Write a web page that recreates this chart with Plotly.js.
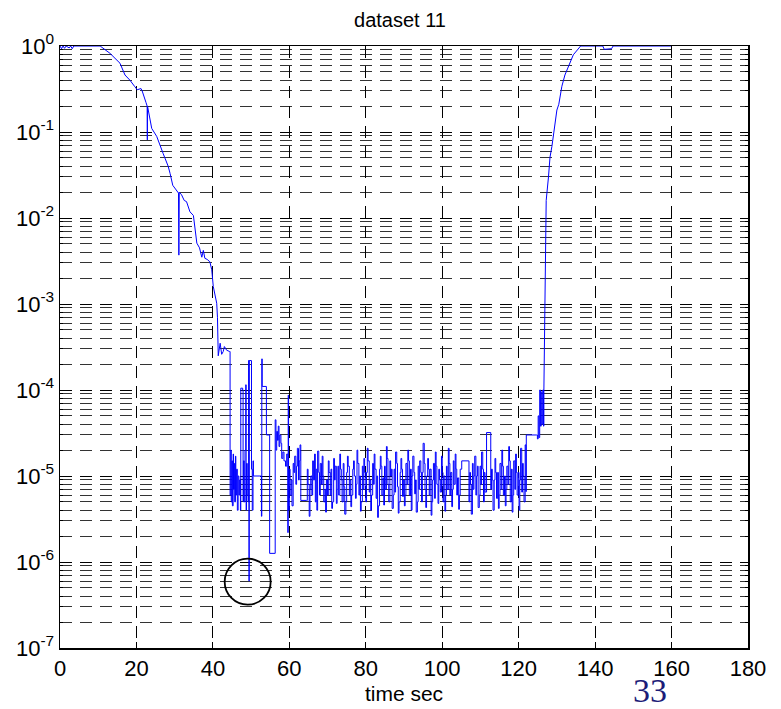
<!DOCTYPE html>
<html>
<head>
<meta charset="utf-8">
<script src="https://cdn.plot.ly/plotly-3.0.1.min.js"></script>
<style>
html,body{margin:0;padding:0;background:#fff;}
#chart{width:781px;height:709px;}
</style>
</head>
<body>
<div id="chart"></div>
<script>
// ---- data: decay section ----
var decayT = [0, 0.4, 0.8, 1.2, 1.6, 2.4, 2.8, 3.2, 3.6, 10.5, 13.1, 15.7, 17, 18.3, 19.5, 20.2, 21.2, 21.5, 22.5, 22.8, 22.85, 22.9, 24, 25.3, 27, 28.3, 28.8, 29.5, 31, 31.1, 31.2, 31.8, 32.5, 33.1, 34, 34.9, 35.8, 36.5, 37.1, 37.5, 37.9, 38.5, 39.2, 39.7, 40.1, 40.6, 41, 41.2, 41.4, 41.9, 42.3, 42.7, 43.0, 43.6, 44.3, 44.4];
var decayV = [1, 0.93, 1, 0.94, 1, 0.95, 1, 0.93, 1, 1, 0.82, 0.63, 0.46, 0.40, 0.34, 0.31, 0.32, 0.30, 0.22, 0.20, 0.081, 0.20, 0.11, 0.089, 0.056, 0.040, 0.033, 0.024, 0.0195, 0.0037, 0.02, 0.0186, 0.016, 0.0155, 0.0118, 0.0107, 0.0051, 0.0045, 0.0035, 0.0042, 0.0034, 0.0033, 0.0031, 0.0025, 0.0016, 0.0013, 0.00102, 0.0007, 0.00025, 0.00035, 0.00026, 0.00028, 0.00032, 0.00029, 0.00028, 0.00028];

// ---- data: transition spikes 44.4 - 60 s ----
var spikeT = [44.4, 44.5, 44.7, 44.8, 45.0, 45.1, 45.3, 45.4, 45.6, 45.7, 45.9, 46.0, 46.2, 46.4, 46.6, 46.8, 47.0, 47.2, 47.3, 47.6, 47.8, 47.9, 48.0, 48.2, 48.4, 48.6, 48.7, 48.8, 49.0, 49.2, 49.35, 49.45, 49.5, 50.0, 50.1, 50.3, 50.5, 50.6, 52.3, 52.5, 52.7, 52.8, 52.9, 53.9, 54.0, 54.8, 54.85, 56.0, 56.3, 56.5, 56.7, 56.9, 57.1, 57.3, 57.5, 57.8, 58.0, 58.3, 58.6, 59.0, 59.3, 59.6, 59.7, 59.8];
var spikeV = [0.00028, 6e-6, 2e-5, 5e-6, 1.5e-5, 4.5e-6, 1.8e-5, 7e-6, 1.4e-5, 5e-6, 1.7e-5, 6e-6, 1.2e-5, 4e-6, 1.0e-5, 6e-6, 9e-6, 4e-6, 1.05e-4, 1.05e-4, 1e-4, 5e-6, 1.5e-5, 5e-6, 2e-5, 1.15e-4, 4e-6, 1.4e-5, 6e-6, 5e-6, 2.2e-4, 6e-7, 2.2e-4, 2.2e-4, 1.2e-5, 4e-6, 1.5e-5, 1e-5, 1e-5, 1e-5, 3.4e-6, 2.3e-4, 1.1e-4, 1.1e-4, 3e-5, 3e-5, 1.26e-6, 1.26e-6, 4.5e-5, 2e-5, 3.3e-5, 2.6e-5, 3.8e-5, 2.2e-5, 3e-5, 2.4e-5, 1.6e-5, 1.9e-5, 1.5e-5, 1.3e-5, 1.8e-5, 2.2e-6, 8.7e-5, 4e-6];

// ---- data: noise floor 60 - 122 s ----
var noiseT = [
  60.0, 60.2, 60.5, 60.7, 61.0, 61.2, 61.4, 61.7, 61.9, 62.1,
  62.4, 62.6, 62.8, 63.0, 64.5, 64.7, 64.9, 65.2, 65.4, 65.6,
  65.9, 66.1, 66.3, 66.6, 66.8, 67.0, 67.2, 67.4, 67.7, 67.9,
  68.1, 68.4, 68.6, 68.8, 69.0, 69.3, 69.5, 69.7, 70.0, 70.2,
  70.4, 70.7, 70.9, 71.1, 71.3, 71.6, 71.8, 72.0, 72.3, 72.5,
  72.7, 72.9, 73.2, 73.4, 73.6, 73.8, 74.1, 74.3, 74.5, 74.8,
  75.0, 75.2, 75.4, 75.7, 75.9, 76.1, 76.3, 76.6, 76.8, 77.0,
  77.3, 77.5, 77.7, 77.9, 78.2, 78.4, 78.6, 78.8, 79.1, 79.3,
  79.5, 79.7, 80.0, 80.2, 80.4, 80.6, 80.9, 81.1, 81.3, 81.5,
  81.8, 82.0, 82.2, 82.4, 82.7, 82.9, 83.1, 83.3, 83.6, 83.8,
  84.0, 84.2, 84.5, 84.7, 84.9, 85.1, 85.4, 85.6, 85.8, 86.0,
  86.3, 86.5, 86.7, 86.9, 87.2, 87.4, 87.6, 87.8, 88.1, 88.3,
  88.5, 88.7, 89.0, 89.2, 89.4, 89.6, 89.9, 90.1, 90.3, 90.5,
  90.8, 91.0, 91.2, 91.4, 91.7, 91.9, 92.1, 92.3, 92.6, 92.8,
  93.0, 93.2, 93.5, 93.7, 93.9, 94.1, 94.4, 94.6, 94.8, 95.0,
  95.3, 95.5, 95.7, 95.9, 96.2, 96.4, 96.6, 96.8, 97.1, 97.3,
  97.5, 97.7, 98.0, 98.2, 98.4, 98.6, 98.9, 99.1, 99.3, 99.5,
  99.8, 100.0, 100.2, 100.4, 100.7, 100.9, 101.1, 101.3, 101.6, 101.8,
  102.0, 102.2, 102.5, 102.7, 102.9, 103.1, 103.4, 103.6, 103.8, 104.0,
  104.3, 104.5, 104.7, 105.1, 106.8, 107.0, 107.2, 107.4, 107.6, 107.9,
  108.1, 108.3, 108.5, 108.8, 109.0, 109.2, 109.4, 109.7, 109.9, 110.1,
  110.3, 110.6, 110.8, 111.0, 111.2, 111.6, 112.5, 112.7, 112.9, 113.1,
  113.3, 113.6, 113.8, 114.0, 114.2, 114.5, 114.7, 114.9, 115.1, 115.4,
  115.6, 115.8, 116.0, 116.3, 116.5, 116.7, 116.9, 117.2, 117.4, 117.6,
  117.8, 118.1, 118.3, 118.5, 118.7, 119.0, 119.2, 119.4, 119.6, 119.9,
  120.1, 120.3, 120.5, 120.8, 121.0, 121.2, 121.4, 121.7, 121.9];
var noiseV = [
  12e-6, 6e-6, 9e-6, 4.5e-6, 14e-6, 11e-6, 17e-6, 8e-6, 13e-6, 21e-6,
  9e-6, 15e-6, 23e-6, 5.2e-6, 5.2e-6, 12e-6, 8e-6, 3.4e-6, 7e-6, 10e-6,
  6e-6, 15e-6, 9e-6, 18e-6, 5e-6, 12e-6, 4e-6, 19.5e-6, 11e-6, 6e-6,
  14e-6, 8e-6, 17e-6, 10e-6, 5e-6, 7e-6, 3.8e-6, 9e-6, 6e-6, 15e-6,
  11e-6, 6e-6, 12e-6, 4.2e-6, 5e-6, 16e-6, 9e-6, 13e-6, 4.8e-6, 7e-6,
  13e-6, 6e-6, 18e-6, 12e-6, 9e-6, 5e-6, 14e-6, 7.5e-6, 3.6e-6, 5e-6,
  11e-6, 17e-6, 13e-6, 6e-6, 9e-6, 4.4e-6, 6e-6, 12e-6, 15e-6, 10e-6,
  5.5e-6, 8e-6, 20e-6, 14e-6, 6e-6, 10e-6, 3.9e-6, 5e-6, 13e-6, 7e-6,
  16e-6, 11e-6, 5e-6, 11e-6, 21e-6, 15e-6, 6.5e-6, 9e-6, 4e-6, 6e-6,
  14e-6, 8e-6, 18e-6, 12e-6, 5.5e-6, 10e-6, 3.3e-6, 4.5e-6, 12e-6, 17e-6,
  13e-6, 6e-6, 9.5e-6, 4.6e-6, 13e-6, 7e-6, 22e-6, 16e-6, 8e-6, 5e-6,
  15e-6, 10e-6, 12e-6, 4.2e-6, 6e-6, 12e-6, 6.5e-6, 19e-6, 14e-6, 7.5e-6,
  3.7e-6, 5e-6, 11e-6, 16e-6, 12e-6, 5.8e-6, 9e-6, 4.5e-6, 6e-6, 14e-6,
  8e-6, 20e-6, 15e-6, 6e-6, 12e-6, 4e-6, 10e-6, 17e-6, 11e-6, 6.2e-6,
  9e-6, 3.8e-6, 5e-6, 13e-6, 7e-6, 15e-6, 11e-6, 5e-6, 11e-6, 24e-6,
  14e-6, 7e-6, 4.3e-6, 10e-6, 16e-6, 12e-6, 6e-6, 12e-6, 3.5e-6, 5e-6,
  9e-6, 14e-6, 5.5e-6, 19e-6, 13e-6, 8e-6, 4.8e-6, 12e-6, 9e-6, 6.5e-6,
  17e-6, 11e-6, 5e-6, 10e-6, 3.9e-6, 6e-6, 13e-6, 7e-6, 21e-6, 14e-6,
  6e-6, 11e-6, 4.4e-6, 7e-6, 15e-6, 8e-6, 18e-6, 12e-6, 6e-6, 9.5e-6,
  4.1e-6, 6e-6, 12e-6, 15e-6, 15e-6, 5e-6, 11e-6, 8e-6, 3.6e-6, 14e-6,
  7e-6, 10e-6, 17e-6, 6e-6, 10e-6, 13e-6, 4.3e-6, 6e-6, 13e-6, 8e-6,
  19e-6, 12e-6, 5e-6, 11e-6, 6.5e-6, 32e-6, 32e-6, 7e-6, 12e-6, 9e-6,
  4e-6, 9e-6, 16e-6, 11e-6, 5.5e-6, 11e-6, 4.2e-6, 6e-6, 14e-6, 7e-6,
  20e-6, 13e-6, 6e-6, 10e-6, 4.5e-6, 7e-6, 13e-6, 8e-6, 22e-6, 15e-6,
  5e-6, 12e-6, 3.8e-6, 6e-6, 15e-6, 7e-6, 18e-6, 11e-6, 6e-6, 11e-6,
  4e-6, 9e-6, 21e-6, 6.5e-6, 14e-6, 10e-6, 5e-6, 23e-6, 6.6e-6];

// ---- data: oscillation before recovery 122 - 126.6 s ----
var preT = [122.0, 124.7, 124.9, 125.1, 125.3, 125.5, 125.7, 125.9, 126.1, 126.3, 126.5, 126.6];
var preV = [30e-6, 30e-6, 27e-6, 50e-6, 28e-6, 100e-6, 38e-6, 95e-6, 40e-6, 100e-6, 38e-6, 100e-6];

// ---- data: recovery 126.6 - 160 s ----
var riseT = [126.6, 126.9, 127.2, 127.8, 128.2, 128.7, 129.2, 130.0, 130.5, 131.3, 132.1, 133.4, 134.3, 135.8, 136.2, 142.0, 142.4, 144.3, 144.7, 160.0];
var riseV = [100e-6, 0.003, 0.016, 0.03, 0.051, 0.068, 0.105, 0.18, 0.21, 0.34, 0.46, 0.63, 0.79, 0.95, 1, 1, 0.915, 0.93, 1, 1];

// ---- annotation marker (circled point) ----
var circleX = [49.1];
var circleY = [5.9e-7];

// ---- axis labels ----
var yTickVals = [1e-7, 1e-6, 1e-5, 1e-4, 1e-3, 1e-2, 1e-1, 1];
var yTickText = ['10<sup>-7</sup>', '10<sup>-6</sup>', '10<sup>-5</sup>', '10<sup>-4</sup>', '10<sup>-3</sup>', '10<sup>-2</sup>', '10<sup>-1</sup>', '10<sup>0</sup>'];
var titleText = 'dataset 11';
var xTitleText = 'time sec';
var pageNumber = '33';

var midT = spikeT.concat(noiseT, preT);
var midV = spikeV.concat(noiseV, preV);

// minor log ticks 2..9 per decade
var minorVals = [];
for (var d = -7; d < 0; d++) {
  for (var k = 2; k <= 9; k++) minorVals.push(k * Math.pow(10, d));
}

var blue = '#0000ff';
var dash = '12px,8px';
var traces = [
  {x: decayT, y: decayV, type: 'scatter', mode: 'lines', line: {color: blue, width: 1}, hoverinfo: 'skip'},
  {x: midT, y: midV, type: 'scatter', mode: 'lines', line: {color: blue, width: 1, shape: 'hv'}, hoverinfo: 'skip'},
  {x: riseT, y: riseV, type: 'scatter', mode: 'lines', line: {color: blue, width: 1}, hoverinfo: 'skip'},
  {x: circleX, y: circleY, type: 'scatter', mode: 'markers',
   marker: {symbol: 'circle-open', size: 46, color: '#000', line: {color: '#000', width: 1.8}},
   hoverinfo: 'skip'}
];

var layout = {
  width: 781, height: 709,
  margin: {l: 60, r: 33, t: 46, b: 61},
  paper_bgcolor: '#fff', plot_bgcolor: '#fff',
  showlegend: false,
  font: {family: '"Liberation Sans", Arial, sans-serif', color: '#000'},
  title: {text: titleText, font: {size: 20, color: '#000'}, x: 400 / 781, xanchor: 'center',
          yref: 'container', y: 1 - 20 / 709, yanchor: 'middle'},
  xaxis: {
    range: [0, 180], dtick: 20, tick0: 0,
    showline: true, linecolor: '#000', linewidth: 1.5, mirror: 'ticks',
    ticks: 'inside', ticklen: 6, tickcolor: '#000',
    showgrid: true, gridcolor: '#000', gridwidth: 1, griddash: dash,
    zeroline: false,
    tickfont: {size: 22, color: '#000'},
    title: {text: xTitleText, font: {size: 21, color: '#000'}, standoff: 6}
  },
  yaxis: {
    type: 'log', range: [-7, 0],
    tickmode: 'array', tickvals: yTickVals, ticktext: yTickText,
    showline: true, linecolor: '#000', linewidth: 1.5, mirror: 'ticks',
    ticks: 'inside', ticklen: 6, tickcolor: '#000',
    showgrid: true, gridcolor: '#000', gridwidth: 1, griddash: dash,
    zeroline: false,
    tickfont: {size: 22, color: '#000'},
    ticklabelstandoff: 0,
    minor: {tickmode: 'array', tickvals: minorVals, showgrid: true, gridcolor: '#333', gridwidth: 1,
            griddash: dash, ticks: 'inside', ticklen: 3, tickcolor: '#000'}
  },
  annotations: [
    {text: pageNumber, xref: 'paper', yref: 'paper', x: 0.8576, y: -0.071,
     xanchor: 'center', yanchor: 'middle', showarrow: false,
     font: {family: '"Liberation Serif", "Times New Roman", serif', size: 34, color: '#1c1c78'}}
  ]
};

Plotly.newPlot('chart', traces, layout, {displayModeBar: false, staticPlot: true});
</script>
</body>
</html>
